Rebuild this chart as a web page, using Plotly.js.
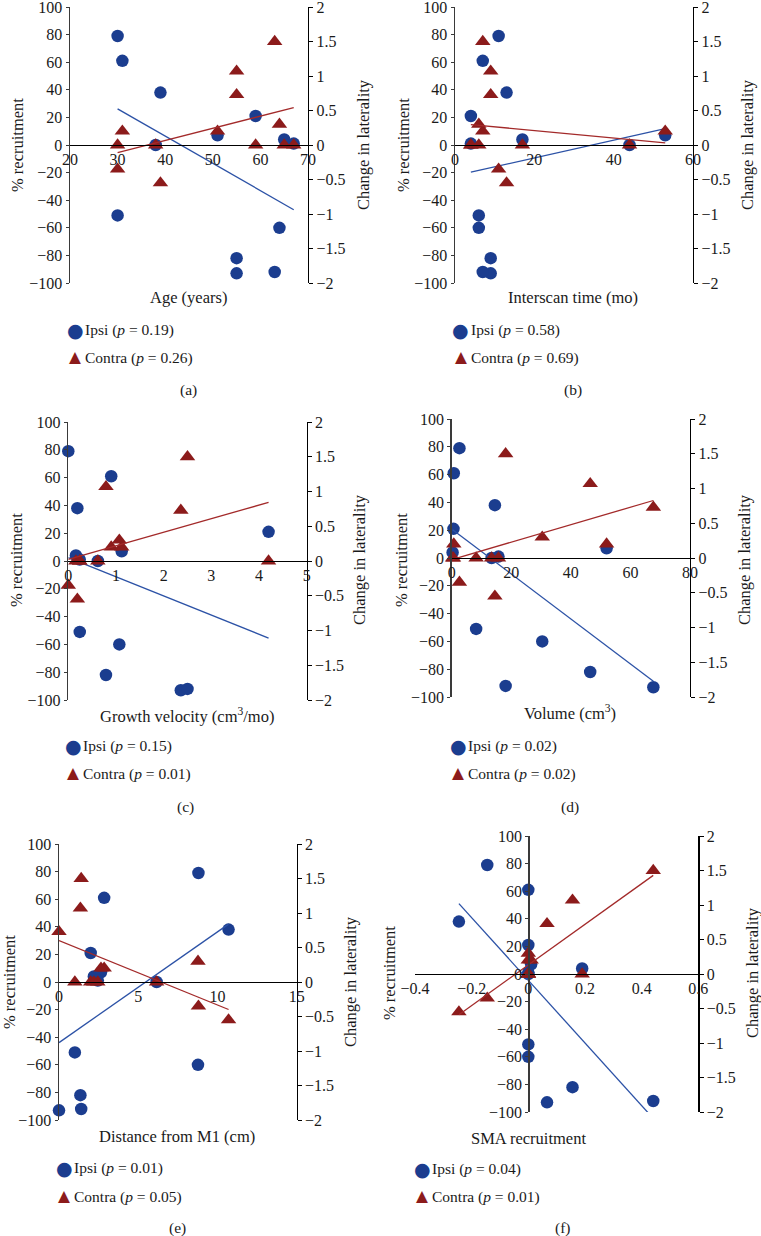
<!DOCTYPE html>
<html>
<head>
<meta charset="utf-8">
<script src="https://cdn.plot.ly/plotly-3.0.1.min.js"></script>
<style>html,body{margin:0;padding:0;background:#fff;}#chart{width:761px;height:1236px;}</style>
</head>
<body>
<div id="chart"></div>
<script>
// ---- Data: one entry per patient (13 patients) ----
const ipsiRecruitment = [79, 61, 38, 0, 7, 21, 4, 1, -51, -60, -82, -93, -92];
const contraLaterality = [-0.35, 0.2, -0.55, 0, 0.2, 0, 0, 0, 0, 0.3, 1.07, 0.73, 1.5];
const ageYears = [30, 31, 39, 38, 51, 59, 65, 67, 30, 64, 55, 55, 63];
const interscanMo = [11, 7, 13, 44, 53, 4, 17, 4, 6, 6, 9, 9, 7];
const growthVelocity = [0, 0.9, 0.19, 0.62, 1.12, 4.2, 0.16, 0.24, 0.24, 1.07, 0.79, 2.36, 2.5];
const volumeCm3 = [2.6, 0.7, 14.5, 13.4, 52, 0.6, 0.3, 15.7, 8.2, 30.4, 46.5, 67.7, 18.1];
const distanceM1 = [8.8, 2.85, 10.7, 6.16, 2.65, 2.0, 2.2, 2.45, 1.0, 8.77, 1.35, 0, 1.4];
const smaRecruitment = [-0.145, 0, -0.245, 0, 0.01, 0, 0.19, 0, 0, 0, 0.156, 0.066, 0.441];

const xTitles = ['Age (years)', 'Interscan time (mo)', 'Growth velocity (cm<sup>3</sup>/mo)',
                 'Volume (cm<sup>3</sup>)', 'Distance from M1 (cm)', 'SMA recruitment'];
const pIpsi = ['0.19', '0.58', '0.15', '0.02', '0.01', '0.04'];
const pContra = ['0.26', '0.69', '0.01', '0.02', '0.05', '0.01'];
const panelLabels = ['(a)', '(b)', '(c)', '(d)', '(e)', '(f)'];
const xSeries = [ageYears, interscanMo, growthVelocity, volumeCm3, distanceM1, smaRecruitment];

// ---- Layout (pixel geometry of each panel) ----
const W = 761, H = 1236;
const FONT = 'Liberation Serif, "Times New Roman", serif';
const BLUE = '#1b3d8f', RED = '#8c1b1b', BLUE_L = '#2c52a6', RED_L = '#a32a2a';
const panels = [
  {xr:[20,70], dt:10, px:[70,308], py:[7,283], yl:[17,145], yr:[363,145], xt:[188,297], leg:[75,330,358], lab:[188,390]},
  {xr:[0,60], dt:20, px:[455,693], py:[7,283], yl:[403,145], yr:[747,145], xt:[573,297], leg:[461,330,358], lab:[573,390]},
  {xr:[0,5], dt:1, px:[68.3,306.7], py:[422,700], yl:[17,560], yr:[360,560], xt:[187,715], leg:[73,746,774], lab:[185,807]},
  {xr:[0,80], dt:20, px:[451.7,690], py:[419,697], yl:[402,560], yr:[745,560], xt:[570,712], leg:[458,746,774], lab:[570,807]},
  {xr:[0,15], dt:5, px:[59,296.7], py:[844,1120], yl:[9,982], yr:[350,982], xt:[177,1136], leg:[64,1168,1197], lab:[177,1228]},
  {xr:[-0.4,0.6], dt:0.2, px:[415,698.3], py:[836,1112], yl:[390,973], yr:[753,973], xt:[528,1138], leg:[422,1169,1197], lab:[563,1228], yAtZero:true}
];

function linreg(xs, ys) {
  const n = xs.length;
  const mx = xs.reduce((a,b)=>a+b,0)/n, my = ys.reduce((a,b)=>a+b,0)/n;
  let sxy = 0, sxx = 0;
  for (let i=0;i<n;i++){ sxy += (xs[i]-mx)*(ys[i]-my); sxx += (xs[i]-mx)**2; }
  const m = sxy/sxx, b = my - m*mx;
  const x0 = Math.min(...xs), x1 = Math.max(...xs);
  return {x:[x0,x1], y:[m*x0+b, m*x1+b]};
}

const fx = p => p / W;
const fy = p => 1 - p / H;
const tickFont = {family: FONT, size: 16, color: '#1a1a1a'};
const traces = [];
const layout = {
  width: W, height: H, margin: {l:0, r:0, t:0, b:0},
  paper_bgcolor: '#ffffff', plot_bgcolor: 'rgba(0,0,0,0)',
  showlegend: false, font: {family: FONT, size: 15, color: '#1a1a1a'},
  annotations: []
};

panels.forEach((P, i) => {
  const xn = i + 1, yLn = 2*i + 1, yRn = 2*i + 2;
  const xk = xn === 1 ? 'x' : 'x' + xn;
  const yLk = yLn === 1 ? 'y' : 'y' + yLn;
  const yRk = 'y' + yRn;
  const xd = [fx(P.px[0]), fx(P.px[1])];
  const yd = [fy(P.py[1]), fy(P.py[0])];
  const xs = xSeries[i];

  layout['xaxis' + (xn === 1 ? '' : xn)] = {
    domain: xd, range: P.xr, dtick: P.dt, tick0: P.xr[0], anchor: 'free', position: (yd[0]+yd[1])/2,
    showline: true, linecolor: '#000', linewidth: 1, ticks: '', showgrid: false, zeroline: false,
    tickfont: tickFont, ticklabeloverflow: 'allow', fixedrange: true
  };
  const yL = {
    domain: yd, range: [-100, 100], dtick: 20, side: 'left',
    showline: true, linecolor: '#3a3a3a', linewidth: 1.5, ticks: 'outside', ticklen: 3, tickcolor: '#3a3a3a',
    showgrid: false, zeroline: false, tickfont: tickFont, ticklabeloverflow: 'allow'
  };
  if (P.yAtZero) {
    yL.anchor = 'free';
    yL.position = xd[0] + (0 - P.xr[0]) / (P.xr[1] - P.xr[0]) * (xd[1] - xd[0]);
  } else {
    yL.anchor = xk;
  }
  layout['yaxis' + (yLn === 1 ? '' : yLn)] = yL;
  layout['yaxis' + yRn] = {
    overlaying: yLk, anchor: xk, side: 'right', range: [-2, 2], dtick: 0.5,
    showline: true, linecolor: '#000', linewidth: 1.2, ticks: 'outside', ticklen: 4, tickcolor: '#000',
    showgrid: false, zeroline: false, tickfont: tickFont, ticklabeloverflow: 'allow'
  };

  traces.push({type:'scatter', mode:'markers', x: xs, y: ipsiRecruitment, xaxis: xk, yaxis: yLk, cliponaxis: false,
    marker: {symbol:'circle', size: 12.5, color: BLUE}, name: 'Ipsi'});
  const ti = linreg(xs, ipsiRecruitment);
  traces.push({type:'scatter', mode:'lines', x: ti.x, y: ti.y, xaxis: xk, yaxis: yLk,
    line: {color: BLUE_L, width: 1.3}, hoverinfo: 'skip'});
  traces.push({type:'scatter', mode:'markers', x: xs, y: contraLaterality, xaxis: xk, yaxis: yRk, cliponaxis: false,
    marker: {symbol:'triangle-up', size: 13.5, color: RED}, name: 'Contra'});
  const tc = linreg(xs, contraLaterality);
  traces.push({type:'scatter', mode:'lines', x: tc.x, y: tc.y, xaxis: xk, yaxis: yRk,
    line: {color: RED_L, width: 1.3}, hoverinfo: 'skip'});

  const A = layout.annotations;
  const ann = (x, y, text, extra) => A.push(Object.assign({xref:'paper', yref:'paper', x: fx(x), y: fy(y), text: text,
    showarrow: false, xanchor: 'center', yanchor: 'middle', font: {family: FONT, size: 16.5, color: '#1a1a1a'}}, extra || {}));
  ann(P.yl[0], P.yl[1], '% recruitment', {textangle: -90});
  ann(P.yr[0], P.yr[1], 'Change in laterality', {textangle: -90});
  ann(P.xt[0], P.xt[1], xTitles[i]);
  ann(P.leg[0], P.leg[1], '●', {font: {family: 'DejaVu Sans', size: 19, color: BLUE}});
  ann(P.leg[0], P.leg[2] - 1, '▲', {font: {family: 'DejaVu Sans', size: 15.5, color: RED}});
  ann(P.leg[0] + 8, P.leg[1], 'Ipsi (<i>p</i> = ' + pIpsi[i] + ')', {xanchor: 'left', font: {family: FONT, size: 15.5, color: '#1a1a1a'}});
  ann(P.leg[0] + 8, P.leg[2], 'Contra (<i>p</i> = ' + pContra[i] + ')', {xanchor: 'left', font: {family: FONT, size: 15.5, color: '#1a1a1a'}});
  ann(P.lab[0], P.lab[1], panelLabels[i], {font: {family: FONT, size: 15.5, color: '#1a1a1a'}});
});

Plotly.newPlot('chart', traces, layout, {staticPlot: true, displayModeBar: false});
</script>
</body>
</html>
